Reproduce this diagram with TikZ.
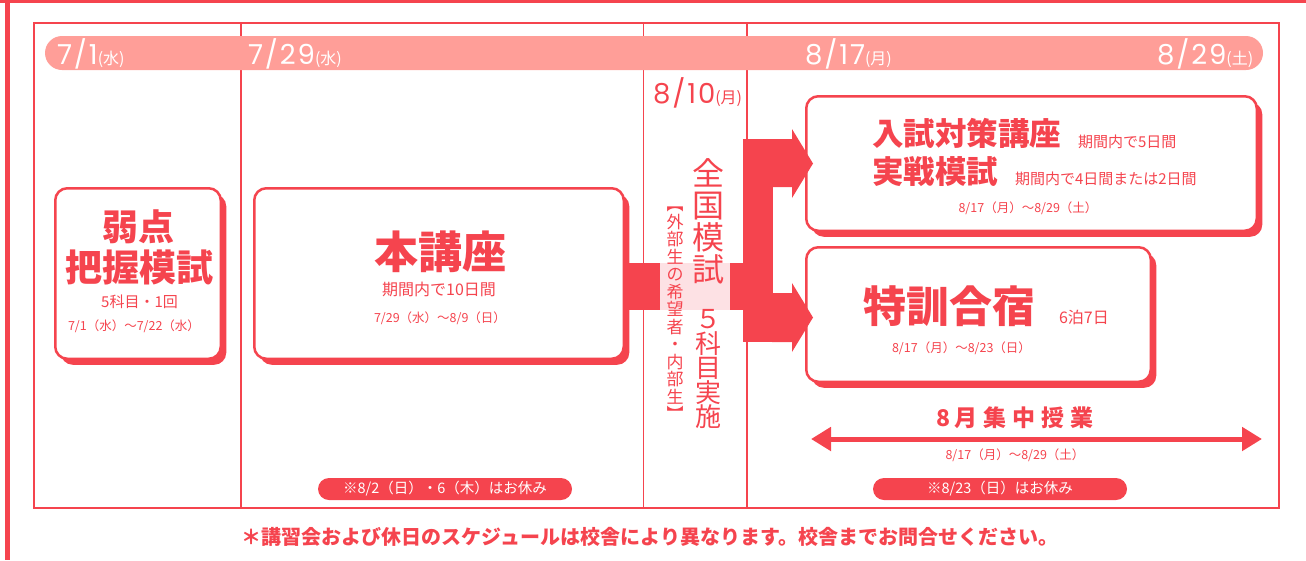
\documentclass[tikz,border=0pt]{standalone}
\usepackage{fontspec}
\setmainfont{Noto Sans CJK JP}
\newfontfamily\pop{Poppins}[LetterSpace=7]
\usetikzlibrary{shadows,arrows.meta}
\definecolor{myred}{RGB}{245,68,78}
\definecolor{bandc}{RGB}{255,158,152}
\definecolor{palec}{RGB}{253,225,228}
\newcommand{\fs}[1]{\fontsize{#1}{#1}\selectfont}
\newcommand{\bdate}[2]{{\pop\fs{27.5}#1}{\fs{16}(#2)}}
\begin{document}
\begin{tikzpicture}[x=1pt,y=-1pt,
  every node/.style={inner sep=0pt,outer sep=0pt,text=myred},
  prog/.style={draw=myred,line width=2.5pt,fill=white,rounded corners=12pt,
    drop shadow={shadow xshift=5.5pt,shadow yshift=-6pt,fill=myred,opacity=1}},
  frameline/.style={draw=myred,line width=2pt},
  divline/.style={draw=myred,line width=1.8pt},
  datew/.style={anchor=base west,text=white},
  pill/.style={fill=myred,rounded corners=11pt,minimum width=254pt,minimum height=22pt,text=white,font=\fs{14.5}},
  title/.style={font=\bfseries},
  small/.style={font=\fs{12.5}}]
\useasboundingbox (0,0) rectangle (1306,560);
% outer border
\fill[myred] (0,0) rectangle (1306,3.3);
\fill[myred] (5,0) rectangle (10,560);
% inner frame and dividers
\draw[frameline] (34,23) rectangle (1278.5,507.5);
\draw[divline] (241,23) -- (241,507.5);
\draw[divline] (643.5,23) -- (643.5,507.5);
\draw[divline] (747,23) -- (747,507.5);
% date band
\fill[bandc,rounded corners=17pt] (45,36) rectangle (1263,70);
\node[datew] (d1) at (57,64) {\bdate{7/1}{水}};
\node[datew] (d2) at (248,64) {\bdate{7/29}{水}};
\node[datew] (d3) at (805,64) {\bdate{8/17}{月}};
\node[datew] (d4) at (1157,64) {\bdate{8/29}{土}};
\node[anchor=base west] (d5) at (653,103) {\bdate{8/10}{月}};
% boxes
\node[prog,minimum width=165.5pt,minimum height=170.5pt] (b1) at (138,273.5) {};
\node[prog,minimum width=369.5pt,minimum height=170.5pt] (b2) at (439,273.5) {};
\node[prog,minimum width=450.5pt,minimum height=134.5pt] (b3) at (1031.5,163.5) {};
\node[prog,minimum width=344.5pt,minimum height=134.5pt] (b4) at (978.5,314.5) {};
% connector
\fill[myred] (627,263) rectangle (743,310);
\fill[palec] (660,263) rectangle (730,310);
\fill[myred] (743,139) rectangle (773,342);
\fill[myred] (772,139) -- (792,139) -- (792,129) -- (813,163.5) -- (792,198) -- (792,187) -- (772,187) -- cycle;
\fill[myred] (772,293) -- (792,293) -- (792,283) -- (813,317.5) -- (792,352) -- (792,342) -- (772,342) -- cycle;
% box 1 text
\node[title,font=\bfseries\fs{36}] (t1a) at (138,227) {弱点};
\node[title,font=\bfseries\fs{37}] (t1b) at (139,267) {把握模試};
\node[font=\fs{15}] (t1c) at (139.5,302) {5科目・1回};
\node[small] (t1d) at (134,326) {7/1（水）～7/22（水）};
% box 2 text
\node[title,font=\bfseries\fs{44}] (t2a) at (440,252) {本講座};
\node[font=\fs{16}] (t2b) at (439,289) {期間内で10日間};
\node[small] (t2c) at (440,318) {7/29（水）～8/9（日）};
% box 3 text
\node[anchor=west,font=\bfseries\fs{31.5}] (t3a) at (872,133) {入試対策講座};
\node[anchor=west,font=\fs{15}] (t3b) at (1078,142) {期間内で5日間};
\node[anchor=west,font=\bfseries\fs{31.5}] (t3c) at (872,172) {実戦模試};
\node[anchor=west,font=\fs{15}] (t3d) at (1015,179) {期間内で4日間または2日間};
\node[small] (t3e) at (1028,208) {8/17（月）～8/29（土）};
% box 4 text
\node[anchor=west,font=\bfseries\fs{43}] (t4a) at (863,306) {特訓合宿};
\node[anchor=west,font=\fs{16}] (t4b) at (1059,317) {6泊7日};
\node[small] (t4c) at (961.5,348) {8/17（月）～8/23（日）};
% national mock exam vertical text
\node[align=center,font={\fontsize{32}{32}\selectfont}] (zen) at (708,221) {全\\国\\模\\試};
\node[align=center,font={\fontsize{26}{24.5}\selectfont}] (goka) at (708,369) {５\\科\\目\\実\\施};
\node[align=center,font={\fontsize{17}{17.5}\selectfont}] (gaibu) at (675,314) {︻\\外\\部\\生\\の\\希\\望\\者\\・\\内\\部\\生\\︼};
% August intensive
\node[font=\bfseries\fs{23}] (aug) at (1015,418) {8\hspace{4pt}月\hspace{6pt}集\hspace{6pt}中\hspace{6pt}授\hspace{6pt}業};
\coordinate (aL) at (811,439);
\coordinate (aR) at (1262,439);
\draw[myred,line width=5pt,{Triangle[length=20pt 0,width=23pt 0]}-{Triangle[length=20pt 0,width=23pt 0]}] (aL) -- (aR);
\node[small] (augd) at (1015,455) {8/17（月）～8/29（土）};
% holiday pills
\node[pill] (p1) at (445,489) {※8/2（日）・6（木）はお休み};
\node[pill] (p2) at (1000,489) {※8/23（日）はお休み};
% footer
\node[font=\bfseries\fs{20}] (foot) at (650,537) {＊講習会および休日のスケジュールは校舎により異なります。校舎までお問合せください。};
\end{tikzpicture}
\end{document}
